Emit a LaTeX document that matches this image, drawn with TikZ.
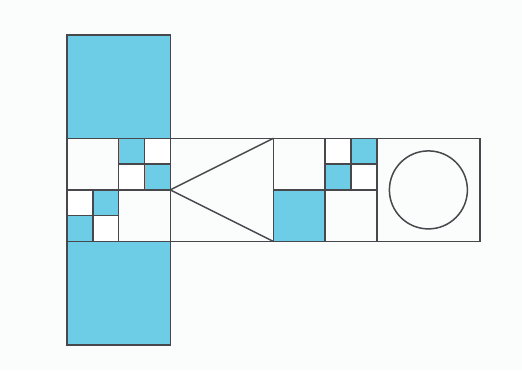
\documentclass[tikz,border=0pt]{standalone}
\usetikzlibrary{calc}
\definecolor{tile}{RGB}{110,205,230}
\definecolor{ink}{RGB}{72,72,76}
\definecolor{paper}{RGB}{251,252,252}
\tikzset{
    % outlines and fills
    edge/.style  = {draw=ink, line width=1.5pt},
    shade/.style = {edge, fill=tile},
    blank/.style = {edge, fill=white}
}
% one small square of side 1/4 cell, filled or not
\newcommand{\quarterbox}[3]{\draw[#3] (#1,#2) rectangle ++(25.81,25.81);}

\begin{document}
\begin{tikzpicture}[x=1pt, y=-1pt]
    \fill[paper] (0,0) rectangle (522,370);
    \useasboundingbox (0,0) rectangle (522,370);

    % big squares of the column
    \draw[shade] (67,35) rectangle (170.25,138.25);
    \draw[shade] (67,241.5) rectangle (170.25,344.75);

    % the band of four squares
    \foreach \i in {0,...,3}
        \draw[edge] ({67+103.25*\i},138.25) rectangle ++(103.25,103.25);

    % first square: halves and quarters
    \draw[edge] (67,189.875) -- (170.25,189.875);
    \draw[edge] (118.625,138.25) -- (118.625,241.5);
    \quarterbox{118.625}{138.25}{shade}
    \quarterbox{144.44}{138.25}{blank}
    \quarterbox{118.625}{164.06}{blank}
    \quarterbox{144.44}{164.06}{shade}
    \quarterbox{67}{189.875}{blank}
    \quarterbox{92.81}{189.875}{shade}
    \quarterbox{67}{215.69}{shade}
    \quarterbox{92.81}{215.69}{blank}

    % second square: triangle
    \coordinate (tip) at (170.25,189.875);
    \coordinate (top) at (273.5,138.25);
    \coordinate (bot) at (273.5,241.5);
    \draw[edge, line join=miter] (top) -- (tip) -- (bot);

    % third square: halves and quarters
    \draw[shade] (273.5,189.875) rectangle (325.125,241.5);
    \draw[edge] (273.5,189.875) -- (376.75,189.875);
    \draw[edge] (325.125,138.25) -- (325.125,241.5);
    \quarterbox{325.125}{138.25}{blank}
    \quarterbox{350.94}{138.25}{shade}
    \quarterbox{325.125}{164.06}{shade}
    \quarterbox{350.94}{164.06}{blank}

    % fourth square: circle
    \node[circle, edge, minimum size=78pt, inner sep=0pt] (ring) at (428.4,189.9) {};
\end{tikzpicture}
\end{document}
